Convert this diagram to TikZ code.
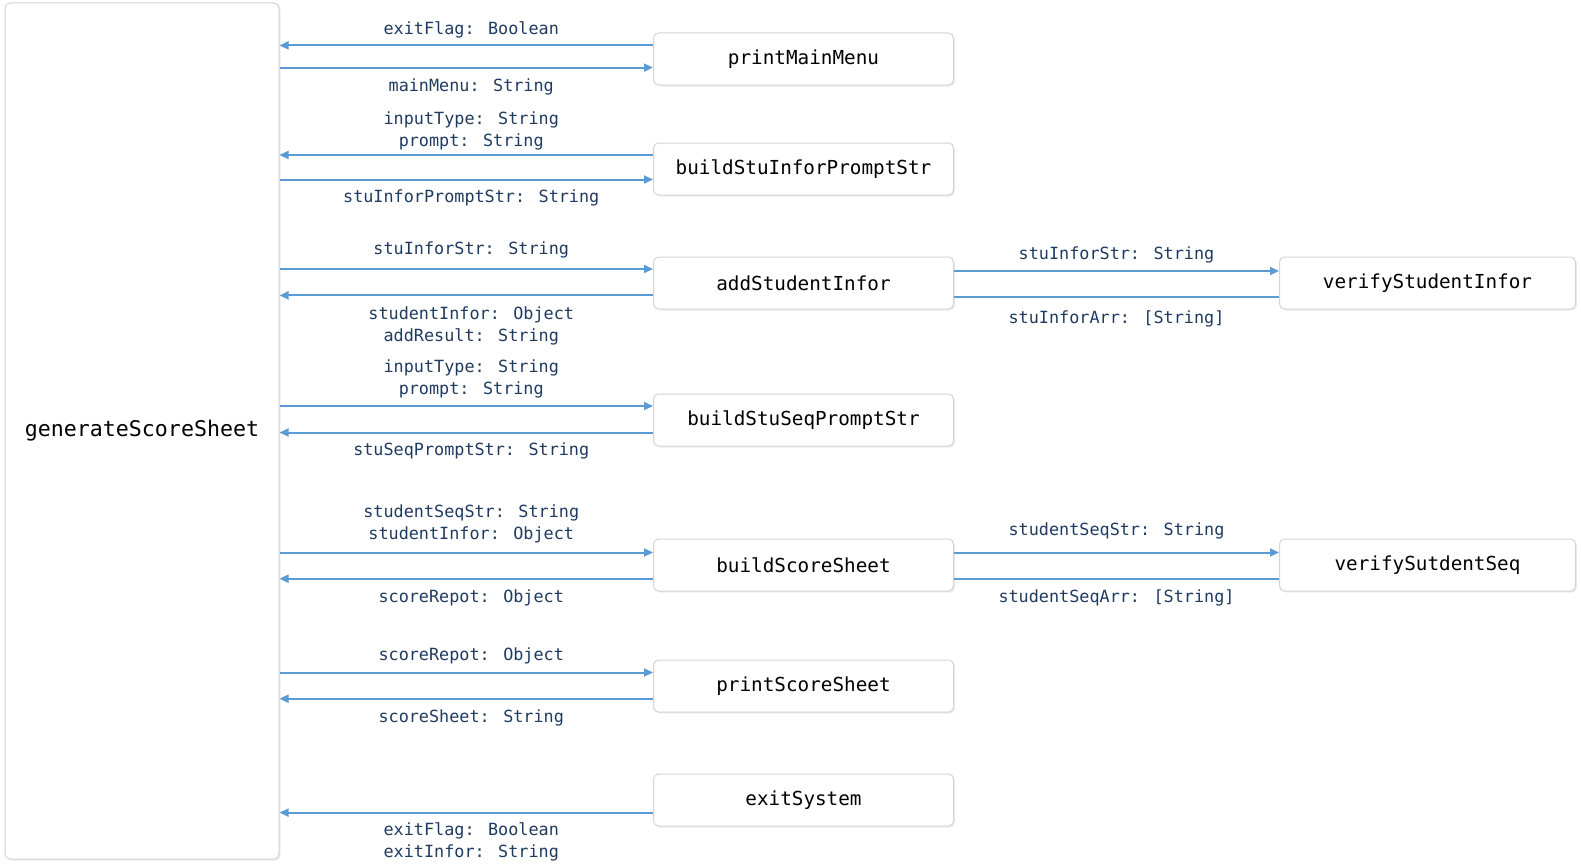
\documentclass[tikz,border=0pt]{standalone}
\usepackage{fontspec}
\usepackage{tikz}
\usetikzlibrary{arrows.meta, positioning, shadows}
\newfontfamily\codefont{DejaVu Sans Mono}
\definecolor{flowblue}{HTML}{5B9BD5}
\definecolor{labelnavy}{HTML}{1F3A5F}
\definecolor{boxgray}{HTML}{D4D4D4}

\begin{document}
\begin{tikzpicture}[
    x=1pt, y=-1pt,
    func/.style={rectangle, draw=boxgray, rounded corners=5pt, fill=white, line width=1pt, minimum width=300pt, minimum height=52pt, inner sep=0pt, font=\codefont\fontsize{19.3}{23}\selectfont, drop shadow={opacity=0.15, shadow xshift=1.5pt, shadow yshift=-1.5pt}},
    arrow/.style={-{Triangle[length=9pt, width=8pt]}, flowblue, line width=2pt},
    link/.style={flowblue, line width=2pt},
    lbl/.style={font=\codefont\fontsize{16.8}{22}\selectfont, text=labelnavy, align=center, inner sep=0pt},
    leftlbl/.style={lbl, xshift=5pt},
]
\useasboundingbox (0,0) rectangle (1581,867);

\node[func, minimum width=274pt, minimum height=856pt, font=\codefont\fontsize{21.6}{26}\selectfont] (main) at (142,431) {generateScoreSheet};

\node[func] (pmm) at (803.5,59) {printMainMenu};
\node[func, below=57pt of pmm] (bsipps) {buildStuInforPromptStr};
\node[func, below=61pt of bsipps] (asi) {addStudentInfor};
\node[func, below=84pt of asi] (bssps) {buildStuSeqPromptStr};
\node[func, below=92pt of bssps] (bss) {buildScoreSheet};
\node[func, below=68pt of bss] (pss) {printScoreSheet};
\node[func, below=61pt of pss] (es) {exitSystem};

\node[func, minimum width=296pt, right=325pt of asi] (vsi) {verifyStudentInfor};
\node[func, minimum width=296pt, right=325pt of bss] (vss) {verifySutdentSeq};

% printMainMenu
\draw[arrow] ([yshift=13.6pt]pmm.west) -- ([yshift=13.6pt]pmm.west -| main.east) node[leftlbl, midway, above=6pt] {exitFlag: Boolean};
\draw[arrow] ([yshift=-8.6pt]pmm.west -| main.east) -- ([yshift=-8.6pt]pmm.west) node[leftlbl, midway, below=10pt] {mainMenu: String};

% buildStuInforPromptStr
\draw[arrow] ([yshift=14pt]bsipps.west) -- ([yshift=14pt]bsipps.west -| main.east) node[leftlbl, midway, above=4pt] {inputType: String\\prompt: String};
\draw[arrow] ([yshift=-10.5pt]bsipps.west -| main.east) -- ([yshift=-10.5pt]bsipps.west) node[leftlbl, midway, below=9pt] {stuInforPromptStr: String};

% addStudentInfor
\draw[arrow] ([yshift=14pt]asi.west -| main.east) -- ([yshift=14pt]asi.west) node[leftlbl, midway, above=10pt] {stuInforStr: String};
\draw[arrow] ([yshift=-12.4pt]asi.west) -- ([yshift=-12.4pt]asi.west -| main.east) node[leftlbl, midway, below=10pt] {studentInfor: Object\\addResult: String};
\draw[arrow] ([yshift=12pt]asi.east) -- ([yshift=12pt]asi.east -| vsi.west) node[lbl, midway, above=6.5pt] {stuInforStr: String};
\draw[link] ([yshift=-14.4pt]asi.east -| vsi.west) -- ([yshift=-14.4pt]asi.east) node[lbl, midway, below=12.5pt] {stuInforArr: [String]};

% buildStuSeqPromptStr
\draw[arrow] ([yshift=14pt]bssps.west -| main.east) -- ([yshift=14pt]bssps.west) node[leftlbl, midway, above=6.5pt] {inputType: String\\prompt: String};
\draw[arrow] ([yshift=-12.5pt]bssps.west) -- ([yshift=-12.5pt]bssps.west -| main.east) node[leftlbl, midway, below=9.5pt] {stuSeqPromptStr: String};

% buildScoreSheet
\draw[arrow] ([yshift=12.5pt]bss.west -| main.east) -- ([yshift=12.5pt]bss.west) node[leftlbl, midway, above=8.5pt] {studentSeqStr: String\\studentInfor: Object};
\draw[arrow] ([yshift=-13.7pt]bss.west) -- ([yshift=-13.7pt]bss.west -| main.east) node[leftlbl, midway, below=10pt] {scoreRepot: Object};
\draw[arrow] ([yshift=12.5pt]bss.east) -- ([yshift=12.5pt]bss.east -| vss.west) node[lbl, midway, above=12pt] {studentSeqStr: String};
\draw[link] ([yshift=-13.7pt]bss.east -| vss.west) -- ([yshift=-13.7pt]bss.east) node[lbl, midway, below=10pt] {studentSeqArr: [String]};

% printScoreSheet
\draw[arrow] ([yshift=13.5pt]pss.west -| main.east) -- ([yshift=13.5pt]pss.west) node[leftlbl, midway, above=8pt] {scoreRepot: Object};
\draw[arrow] ([yshift=-12.7pt]pss.west) -- ([yshift=-12.7pt]pss.west -| main.east) node[leftlbl, midway, below=10pt] {scoreSheet: String};

% exitSystem
\draw[arrow] ([yshift=-12.6pt]es.west) -- ([yshift=-12.6pt]es.west -| main.east) node[leftlbl, midway, below=9pt] {exitFlag: Boolean\\exitInfor: String};

\end{tikzpicture}
\end{document}
